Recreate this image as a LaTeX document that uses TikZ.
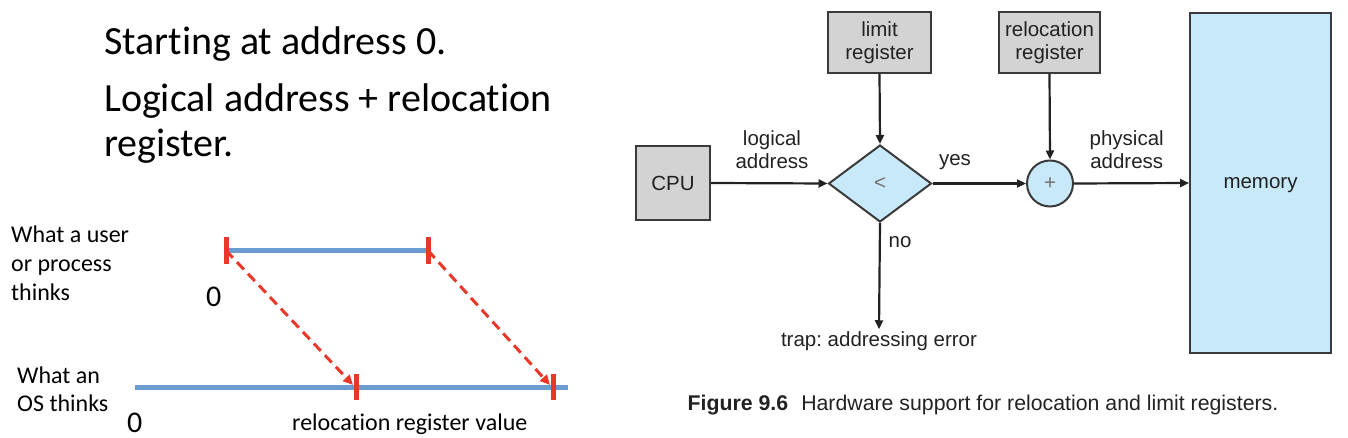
\documentclass[tikz,border=0pt]{standalone}
\usepackage{fontspec}
\setmainfont{Carlito}[Ligatures={NoCommon}]
\newfontfamily\arialf{Liberation Sans}
\usetikzlibrary{arrows.meta,shapes.geometric}
\definecolor{boxgray}{HTML}{D3D3D3}
\definecolor{edge}{HTML}{3A3A3A}
\definecolor{lblue}{HTML}{C8E9FA}
\definecolor{barblue}{HTML}{6B9BD1}
\definecolor{tickred}{HTML}{E8382A}
\definecolor{ink}{HTML}{222222}
\definecolor{sym}{HTML}{707070}
\frenchspacing
\begin{document}
\begin{tikzpicture}[x=1pt,y=-1pt,
  hw/.style={font=\arialf\fontsize{20.5}{23}\selectfont, text=ink},
  gbox/.style={hw, draw=edge, line width=2pt, fill=boxgray, align=center, inner sep=0pt},
  bbox/.style={hw, draw=edge, line width=2pt, fill=lblue, inner sep=0pt},
  flow/.style={line width=2.2pt, draw=ink, -{Triangle[length=9pt,width=8pt]}},
  lbl/.style={hw, align=center, inner sep=0pt},
  cal/.style={font=\fontsize{24}{28}\selectfont, anchor=base west, inner sep=0pt},
  zero/.style={font=\fontsize{30}{34}\selectfont, anchor=base west, inner sep=0pt},
  big/.style={font=\fontsize{40}{45}\selectfont, anchor=base west, inner sep=0pt},
  bar/.style={line width=5pt, draw=barblue},
  tickmark/.style={line width=5pt, draw=tickred},
  map/.style={line width=3pt, draw=tickred, dash pattern=on 10pt off 6pt, -{Triangle[length=10pt,width=9pt]}},
]
\useasboundingbox (0,0) rectangle (1348,438);

% ---------- left: text ----------
\node[big] (t1) at (104,55) {Starting at address 0.};
\node[big] (t2) at (104,111.7) {Logical address + relocation};
\node[big] (t3) at (104,156.7) {register.};

\node[cal] (w1) at (11,243) {What a user};
\node[cal] (w2) at (11,271.5) {or process};
\node[cal] (w3) at (11,300) {thinks};
\node[cal] (w4) at (17,383) {What an};
\node[cal] (w5) at (17,411.5) {OS thinks};
\node[zero] (z1) at (206,306) {0};
\node[zero] (z2) at (127,432) {0};
\node[cal] (rv) at (292,430) {relocation register value};

% ---------- left: bars ----------
\coordinate (u0) at (226,250.5);
\coordinate (u1) at (428,250.5);
\coordinate (o0) at (135,387);
\coordinate (o1) at (568,387);
\coordinate (r0) at (356,387);
\coordinate (r1) at (553,387);
\draw[bar] (u0) -- (u1);
\draw[bar] (o0) -- (o1);
\draw[tickmark] ([yshift=13pt]u0) -- ([yshift=-13pt]u0);
\draw[tickmark] ([yshift=13pt]u1) -- ([yshift=-13pt]u1);
\draw[tickmark] ([yshift=13pt]r0) -- ([yshift=-13pt]r0);
\draw[tickmark] ([yshift=13pt]r1) -- ([yshift=-13pt]r1);
\draw[map] (u0) -- ([xshift=-3pt,yshift=2pt]r0);
\draw[map] (u1) -- ([xshift=-3pt,yshift=2pt]r1);

% ---------- right: hardware figure ----------
\node[gbox, minimum width=103pt, minimum height=61pt] (limit) at (879.5,42.5) {limit\\register};
\node[gbox, minimum width=101pt, minimum height=61pt] (reloc) at (1049.5,42.5) {relocation\\register};
\node[gbox, minimum width=74pt, minimum height=74pt] (cpu) at (673,183) {CPU};
\node[bbox, diamond, minimum width=103pt, minimum height=77pt, text=sym] (cmp) at (880,183.5) {<};
\node[bbox, circle, minimum size=46pt, text=sym] (add) at (1050,183.5) {+};
\node[bbox, minimum width=141pt, minimum height=340pt, text depth=0pt] (mem) at (1260.5,183) {memory};
\node[hw, inner sep=2pt] (trap) at (879,341) {trap: addressing error};

\draw[flow] (cpu.east) -- (cmp.west);
\draw[flow] (limit.south) -- (cmp.north);
\draw[flow] (cmp.east) -- (add.west);
\draw[flow] (reloc.south) -- (add.north);
\draw[flow] (add.east) -- (mem.west);
\draw[flow] (cmp.south) -- (trap.north);

\node[lbl] (la) at (772,150) {logical\\address};
\node[lbl] (yes) at (955,162) {yes};
\node[lbl] (pa) at (1126.7,150) {physical\\address};
\node[lbl] (no) at (900,242) {no};

\node[font=\arialf\fontsize{21.3}{25}\selectfont, text=ink, inner sep=0pt] (cap) at (983,405)
  {\textbf{Figure 9.6}\hspace{13pt}Hardware support for relocation and limit registers.};
\end{tikzpicture}
\end{document}
